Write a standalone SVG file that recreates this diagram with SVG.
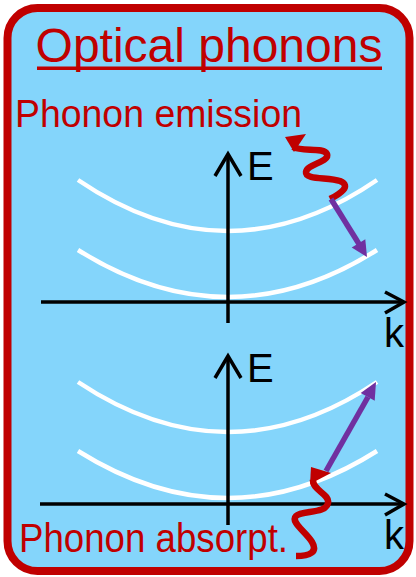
<svg xmlns="http://www.w3.org/2000/svg" width="416" height="577" viewBox="0 0 416 577">
<style>
.lbl{font-family:"Liberation Sans",Arial,sans-serif;}
.red{fill:#C00000;}
.ax{stroke:#000;stroke-width:3.5;fill:none;stroke-linecap:butt;}
.band{stroke:#fff;stroke-width:4.5;fill:none;}
.wave{stroke:#C00000;stroke-width:6.5;fill:none;stroke-linecap:butt;stroke-linejoin:round;}
.pur{stroke:#7030A0;stroke-width:5.5;fill:none;}
</style>
<g id="frame">
<rect x="7.5" y="8" width="402" height="563" rx="30" ry="30" fill="#84D5FB" stroke="#C00000" stroke-width="8"/>
</g>
<g id="title">
<text class="lbl red" x="209" y="62" font-size="48" text-anchor="middle">Optical phonons</text>
<rect x="37" y="66.5" width="345" height="3.5" fill="#C00000"/>
</g>
<g id="label-emission">
<text class="lbl red" x="15" y="127" font-size="39" textLength="287" lengthAdjust="spacingAndGlyphs">Phonon emission</text>
</g>
<g id="label-absorption">
<text class="lbl red" x="19" y="552" font-size="40" textLength="269" lengthAdjust="spacingAndGlyphs">Phonon absorpt.</text>
</g>
<g id="top-diagram">
<path class="band" d="M78,180 Q228,282 377,180"/>
<path class="band" d="M78,250 Q228,344 377,250"/>
<text class="lbl" x="247" y="180" font-size="40">E</text>
<text class="lbl" x="384" y="347" font-size="40">k</text>
</g>
<g id="bottom-diagram">
<path class="band" d="M78,382 Q228,482 377,382"/>
<path class="band" d="M78,451 Q228,545 377,451"/>
<text class="lbl" x="247" y="382" font-size="40">E</text>
<text class="lbl" x="384" y="549" font-size="40">k</text>
</g>
<g id="connectors">
<!-- top axes -->
<path class="ax" d="M228,323 V154"/>
<path class="ax" d="M215,176 L228,154 L241,176"/>
<path class="ax" d="M41,302 H404"/>
<path class="ax" d="M385,292 L404,302 L385,313"/>
<!-- bottom axes -->
<path class="ax" d="M228,525 V356"/>
<path class="ax" d="M215,378 L228,356 L241,378"/>
<path class="ax" d="M40,504 H404"/>
<path class="ax" d="M385,494 L404,504 L385,515"/>
<!-- top transition -->
<path class="wave" d="M330,199 C340,194 352,186 340,181 C328,177 305,180 306,172 C307,164 330,162 327,154 C324,147 302,152 293,147"/>
<polygon points="285,137 306,134 294,152" fill="#C00000"/>
<path class="pur" d="M331,199 L359,244"/>
<polygon points="367,257 351.7,247.6 365.3,239.2" fill="#7030A0"/>
<!-- bottom transition -->
<path class="wave" d="M296,556 C310,556 318,552 312,542 C306,532 290,522 296,516 C302,510 326,514 328,503 C330,494 312,490 313,480"/>
<polygon points="311,467 331,473 310,484" fill="#C00000"/>
<path class="pur" d="M326,471 L368,397"/>
<polygon points="376,382 374.7,400.7 360.7,392.9" fill="#7030A0"/>
</g>
</svg>
